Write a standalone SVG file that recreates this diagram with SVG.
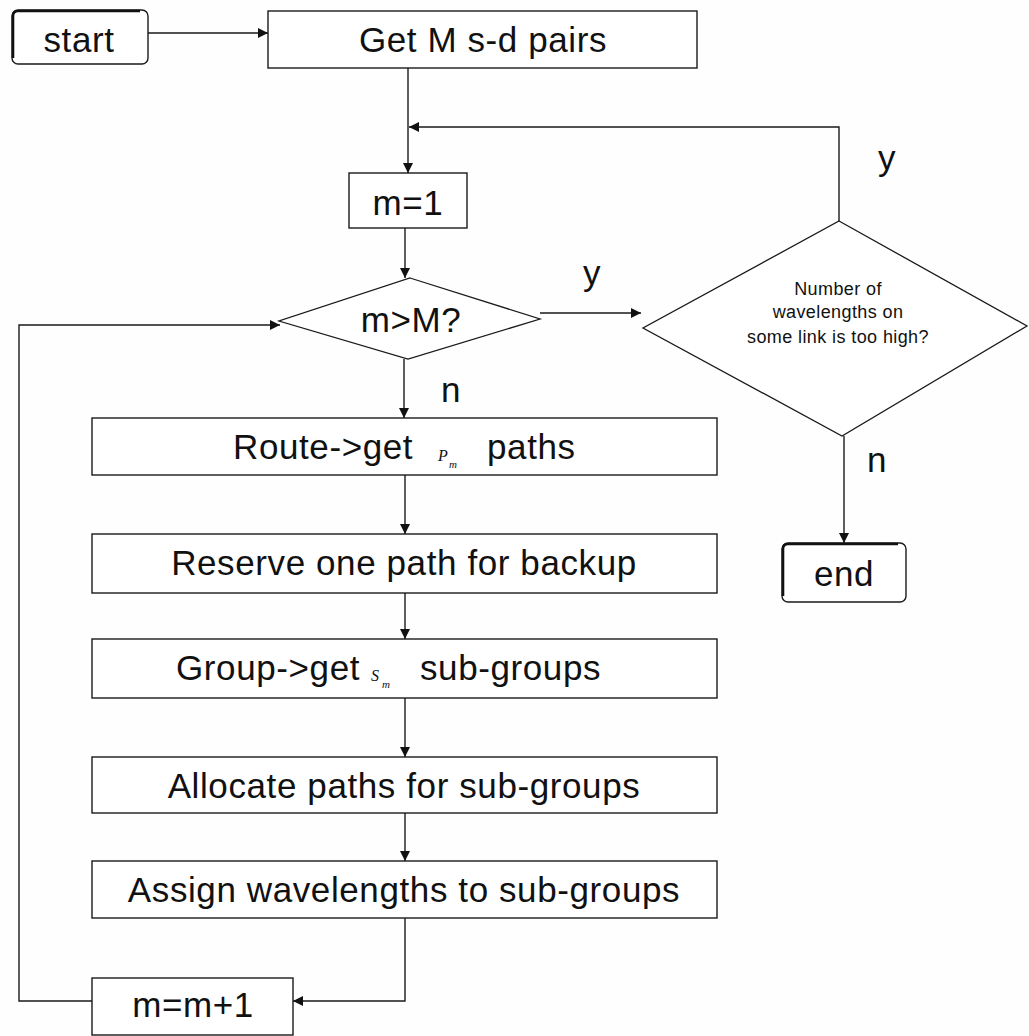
<svg xmlns="http://www.w3.org/2000/svg" width="1029" height="1036" viewBox="0 0 1029 1036">
  <style>
    .box { fill: #ffffff; stroke: #1a1a1a; stroke-width: 1.4; }
    .dia { fill: #ffffff; stroke: #1a1a1a; stroke-width: 1.3; }
    .edge { fill: none; stroke: #1a1a1a; stroke-width: 1.4; }
    .thick { fill: none; stroke: #111111; stroke-width: 2.6; }
    .lbl { font-family: "Liberation Sans", Arial, sans-serif; font-size: 35px; letter-spacing: 0.6px; fill: #111111; }
    .small { font-family: "Liberation Sans", Arial, sans-serif; font-size: 18px; letter-spacing: 0.4px; fill: #111111; }
    .var { font-family: "Liberation Serif", "Times New Roman", serif; font-style: italic; fill: #111111; }
  </style>
  <defs>
    <marker id="arrow" viewBox="0 0 10 10" refX="10" refY="5" markerWidth="10" markerHeight="10" markerUnits="userSpaceOnUse" orient="auto">
      <path d="M0,0 L10,5 L0,10 Z" fill="#111111"/>
    </marker>
  </defs>
  <rect width="1029" height="1036" fill="#fefefe"/>

  <!-- connectors -->
  <g id="connectors">
    <line class="edge" x1="148" y1="33" x2="268" y2="33" marker-end="url(#arrow)"/>
    <line class="edge" x1="408" y1="68" x2="408" y2="173" marker-end="url(#arrow)"/>
    <polyline class="edge" points="839,221 839,127 409,127" marker-end="url(#arrow)"/>
    <line class="edge" x1="405" y1="228" x2="405" y2="278" marker-end="url(#arrow)"/>
    <line class="edge" x1="540" y1="313" x2="641" y2="313" marker-end="url(#arrow)"/>
    <line class="edge" x1="404" y1="359" x2="404" y2="418" marker-end="url(#arrow)"/>
    <line class="edge" x1="405" y1="475" x2="405" y2="534" marker-end="url(#arrow)"/>
    <line class="edge" x1="405" y1="593" x2="405" y2="639" marker-end="url(#arrow)"/>
    <line class="edge" x1="405" y1="698" x2="405" y2="757" marker-end="url(#arrow)"/>
    <line class="edge" x1="405" y1="813" x2="405" y2="861" marker-end="url(#arrow)"/>
    <polyline class="edge" points="405,918 405,1001 293,1001" marker-end="url(#arrow)"/>
    <polyline class="edge" points="92,1001 19,1001 19,325 280,325" marker-end="url(#arrow)"/>
    <line class="edge" x1="844" y1="436" x2="844" y2="543" marker-end="url(#arrow)"/>
    <text class="lbl" x="592" y="285" text-anchor="middle">y</text>
    <text class="lbl" x="887" y="170" text-anchor="middle">y</text>
    <text class="lbl" x="451" y="402" text-anchor="middle">n</text>
    <text class="lbl" x="877" y="472" text-anchor="middle">n</text>
  </g>

  <!-- terminals -->
  <g id="start">
    <rect class="box" x="12" y="10" width="136" height="54" rx="6"/>
    <path class="thick" d="M13,58 L13,16 Q13,11 18,11 L140,11"/>
    <text class="lbl" x="79" y="52" text-anchor="middle">start</text>
  </g>
  <g id="end">
    <rect class="box" x="782" y="543" width="124" height="59" rx="6"/>
    <path class="thick" d="M783,596 L783,549 Q783,544 788,544 L898,544"/>
    <text class="lbl" x="844" y="586" text-anchor="middle">end</text>
  </g>

  <!-- process steps -->
  <g id="get-pairs">
    <rect class="box" x="268" y="11" width="429" height="57"/>
    <text class="lbl" x="483" y="52" text-anchor="middle">Get M s-d pairs</text>
  </g>
  <g id="init-m">
    <rect class="box" x="349" y="173" width="118" height="55"/>
    <text class="lbl" x="408" y="215" text-anchor="middle">m=1</text>
  </g>

  <g id="check-m">
    <polygon class="dia" points="410,278 540,319 408,359 279,321"/>
    <text class="lbl" x="411" y="332" text-anchor="middle">m&gt;M?</text>
  </g>

  <g id="check-wavelengths">
    <polygon class="dia" points="839,221 1027,326 842,436 643,328"/>
    <text class="small" x="838" y="295" text-anchor="middle">Number of</text>
    <text class="small" x="838" y="318" text-anchor="middle">wavelengths on</text>
    <text class="small" x="838" y="343" text-anchor="middle">some link is too high?</text>
  </g>

  <g id="route">
    <rect class="box" x="92" y="418" width="625" height="57"/>
    <text class="lbl" x="233" y="459">Route-&gt;get</text>
    <text class="var" x="438" y="461" font-size="16">P</text>
    <text class="var" x="449" y="468" font-size="11">m</text>
    <text class="lbl" x="487" y="459">paths</text>
  </g>
  <g id="reserve">
    <rect class="box" x="92" y="534" width="625" height="59"/>
    <text class="lbl" x="404" y="575" text-anchor="middle">Reserve one path for backup</text>
  </g>
  <g id="group">
    <rect class="box" x="92" y="639" width="625" height="59"/>
    <text class="lbl" x="176" y="680">Group-&gt;get</text>
    <text class="var" x="371" y="681" font-size="16">S</text>
    <text class="var" x="382" y="688" font-size="11">m</text>
    <text class="lbl" x="420" y="680">sub-groups</text>
  </g>
  <g id="allocate">
    <rect class="box" x="92" y="757" width="625" height="56"/>
    <text class="lbl" x="404" y="798" text-anchor="middle">Allocate paths for sub-groups</text>
  </g>
  <g id="assign">
    <rect class="box" x="92" y="861" width="625" height="57"/>
    <text class="lbl" x="404" y="902" text-anchor="middle">Assign wavelengths to sub-groups</text>
  </g>
  <g id="increment-m">
    <rect class="box" x="92" y="978" width="201" height="57"/>
    <text class="lbl" x="193" y="1017" text-anchor="middle">m=m+1</text>
  </g>
</svg>
